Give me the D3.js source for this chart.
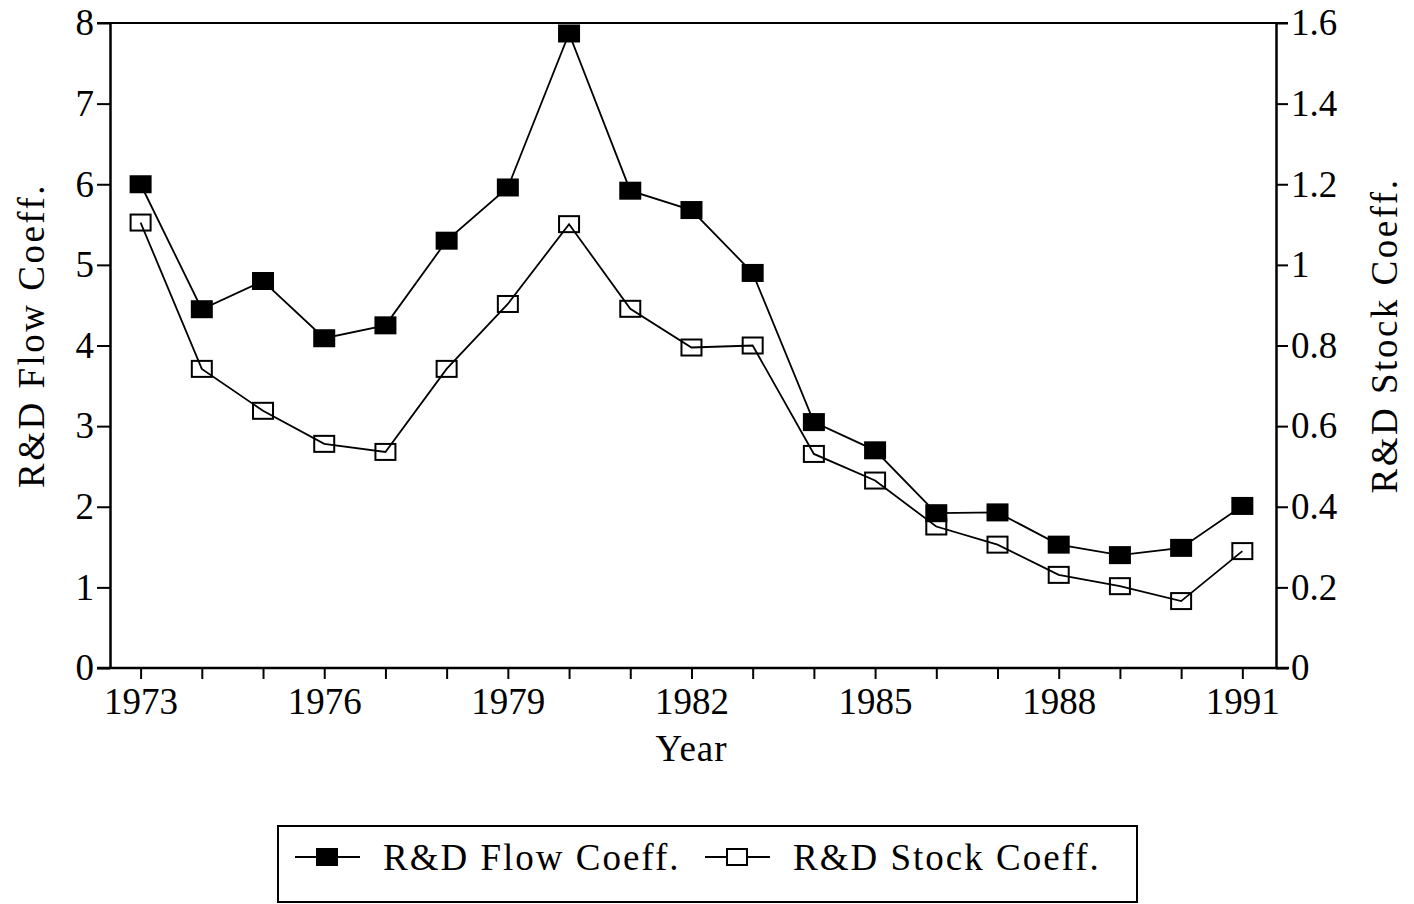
<!DOCTYPE html>
<html>
<head>
<meta charset="utf-8">
<script src="https://cdn.jsdelivr.net/npm/d3@7"></script>
<style>
  body { margin: 0; background: #fff; }
  text { font-family: "Liberation Serif", "Times New Roman", serif; fill: #000; }
</style>
</head>
<body>
<script>
// data
const years = [1973, 1974, 1975, 1976, 1977, 1978, 1979, 1980, 1981, 1982,
               1983, 1984, 1985, 1986, 1987, 1988, 1989, 1990, 1991];
const flowCoeff = [6.00, 4.45, 4.80, 4.09, 4.25, 5.30, 5.96, 7.87, 5.92, 5.68,
                   4.90, 3.05, 2.70, 1.92, 1.93, 1.53, 1.40, 1.49, 2.01];
const stockCoeff = [1.105, 0.742, 0.638, 0.556, 0.536, 0.742, 0.903, 1.101, 0.891, 0.795,
                    0.800, 0.531, 0.465, 0.351, 0.306, 0.231, 0.203, 0.166, 0.290];
const yearTicks = [1973, 1976, 1979, 1982, 1985, 1988, 1991];
const leftTicks = [0, 1, 2, 3, 4, 5, 6, 7, 8];
const rightTicks = [0, 0.2, 0.4, 0.6, 0.8, 1.0, 1.2, 1.4, 1.6];

const W = 1414, H = 904;
const plotL = 110, plotR = 1276, plotT = 23, plotB = 668;
const fs = 37;

const svg = d3.select('body').append('svg')
  .attr('width', W).attr('height', H);

const x = d3.scaleLinear().domain([1972.5, 1991.55]).range([plotL, plotR]);
const yL = d3.scaleLinear().domain([0, 8]).range([plotB, plotT]);
const yR = d3.scaleLinear().domain([0, 1.6]).range([plotB, plotT]);

// x axis: ticks every year, labels every 3
const xAxis = d3.axisBottom(x).tickValues(years).tickSizeInner(11).tickSizeOuter(0)
  .tickFormat(d => yearTicks.includes(d) ? d : '');
const gx = svg.append('g').attr('transform', `translate(0,${plotB})`).call(xAxis);
gx.select('.domain').attr('d', `M${plotL - 13},0H${plotR + 13}`);

const yAxisL = d3.axisLeft(yL).tickValues(leftTicks).tickSizeInner(13).tickSizeOuter(0)
  .tickFormat(d3.format('d'));
svg.append('g').attr('transform', `translate(${plotL},0)`).call(yAxisL);

const yAxisR = d3.axisRight(yR).tickValues(rightTicks).tickSizeInner(12).tickSizeOuter(0)
  .tickFormat(d => d === 0 ? '0' : d === 1 ? '1' : d3.format('.1f')(d));
svg.append('g').attr('transform', `translate(${plotR},0)`).call(yAxisR);

// top frame line
svg.append('line').attr('x1', plotL - 13).attr('x2', plotR + 12)
  .attr('y1', plotT).attr('y2', plotT).attr('stroke', '#000').attr('stroke-width', 2);

svg.selectAll('.domain').attr('stroke', '#000').attr('stroke-width', 2.5);
svg.selectAll('.tick line').attr('stroke', '#000').attr('stroke-width', 2);
svg.selectAll('.tick text').style('font-size', fs + 'px')
  .style('font-family', '"Liberation Serif", serif').attr('fill', '#000');
gx.selectAll('.tick text').attr('dy', '0.9em').attr('y', 13);

// axis titles
svg.append('text').attr('x', x(1982)).attr('y', 761)
  .attr('text-anchor', 'middle').style('font-size', fs + 'px')
  .style('letter-spacing', '1px').text('Year');
svg.append('text').attr('transform', `translate(44,${(plotT + plotB) / 2 - 10}) rotate(-90)`)
  .attr('text-anchor', 'middle').style('font-size', fs + 'px')
  .style('letter-spacing', '2.5px').text('R&D Flow Coeff.');
svg.append('text').attr('transform', `translate(1397,${(plotT + plotB) / 2 - 10}) rotate(-90)`)
  .attr('text-anchor', 'middle').style('font-size', fs + 'px')
  .style('letter-spacing', '2.5px').text('R&D Stock Coeff.');

// series
const series = [
  { name: 'R&D Flow Coeff.', values: flowCoeff, y: yL, filled: true },
  { name: 'R&D Stock Coeff.', values: stockCoeff, y: yR, filled: false }
];
const mw = 20, mh = 16;

series.forEach(s => {
  const line = d3.line().x((d, i) => x(years[i])).y(d => s.y(d));
  svg.append('path').datum(s.values).attr('d', line)
    .attr('fill', 'none').attr('stroke', '#000').attr('stroke-width', 1.8);
  svg.append('g').selectAll('rect').data(s.values).join('rect')
    .attr('x', (d, i) => x(years[i]) - mw / 2)
    .attr('y', d => s.y(d) - mh / 2)
    .attr('width', mw).attr('height', mh)
    .attr('fill', s.filled ? '#000' : 'none')
    .attr('stroke', '#000').attr('stroke-width', 2);
});

// legend
const lg = svg.append('g');
lg.append('rect').attr('x', 278).attr('y', 826).attr('width', 859).attr('height', 76)
  .attr('fill', 'none').attr('stroke', '#000').attr('stroke-width', 2);
const legendX = [295, 705];
series.forEach((s, i) => {
  const x0 = legendX[i], yy = 857;
  lg.append('line').attr('x1', x0).attr('x2', x0 + 65).attr('y1', yy).attr('y2', yy)
    .attr('stroke', '#000').attr('stroke-width', 1.8);
  lg.append('rect').attr('x', x0 + 32 - mw / 2).attr('y', yy - mh / 2)
    .attr('width', mw).attr('height', mh)
    .attr('fill', s.filled ? '#000' : '#fff')
    .attr('stroke', '#000').attr('stroke-width', 2);
  lg.append('text').attr('x', x0 + 88).attr('y', yy + 13)
    .style('font-size', fs + 'px').style('letter-spacing', '2px').text(s.name);
});
</script>
</body>
</html>
